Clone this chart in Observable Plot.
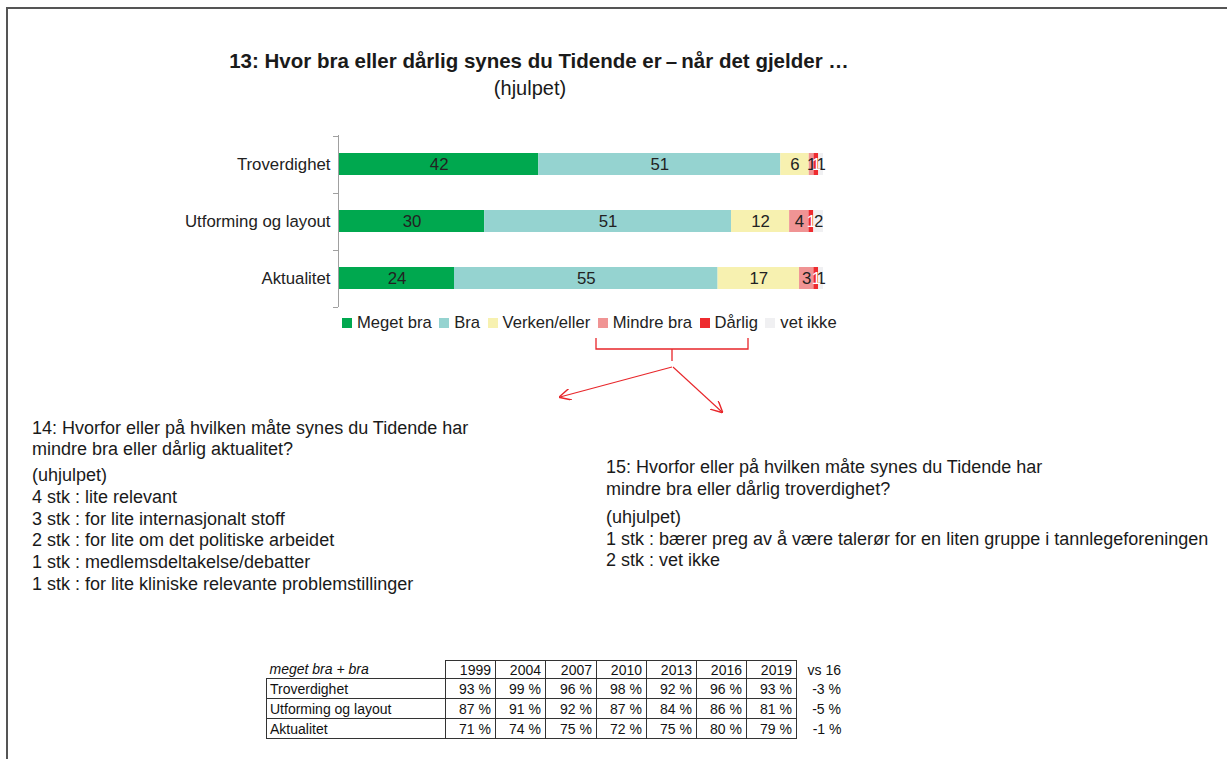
<!DOCTYPE html>
<html>
<head>
<meta charset="utf-8">
<script src="https://cdn.jsdelivr.net/npm/d3@7"></script>
<script src="https://cdn.jsdelivr.net/npm/@observablehq/plot@0.6"></script>
<style>
  body { margin: 0; background: #fff; }
  #page { position: relative; width: 1227px; height: 759px; overflow: hidden; font-family: "Liberation Sans", Arial, sans-serif; color: #222; }
  .abs { position: absolute; white-space: nowrap; }
  .line { position: absolute; white-space: nowrap; font-size: 18px; line-height: 22px; color: #1a1a1a; }
  #legend { position: absolute; left: 342px; top: 313px; display: flex; align-items: center; font-size: 16.6px; color: #222; }
  #legend .item { display: flex; align-items: center; margin-right: 7.5px; }
  #legend .sw { width: 10px; height: 10px; margin-right: 5px; }
  table { position: absolute; left: 266px; top: 660px; border-collapse: collapse; font-size: 14px; color: #111; table-layout: fixed; }
  td { height: 19px; padding: 0 4px; border: 1px solid #333; text-align: right; white-space: nowrap; }
  tr.head td { height: 17px; }
  td.lab { text-align: left; padding-left: 3px; }
  td.nob { border: none; }
  tr.head td.lab { border-top: none; border-left: none; font-style: italic; }
</style>
</head>
<body>
<div id="page">
  <div class="abs" style="left:6px;top:7px;width:1221px;height:2px;background:#555;"></div>
  <div class="abs" style="left:6px;top:7px;width:2px;height:752px;background:#555;"></div>
  <div class="abs" id="title" style="left:0;width:1078px;text-align:center;top:49px;font-size:20.5px;font-weight:bold;color:#1a1a1a;"></div>
  <div class="abs" id="subtitle" style="left:0;width:1060px;text-align:center;top:77px;font-size:20px;color:#1a1a1a;"></div>
  <div id="chart" class="abs" style="left:0;top:125px;"></div>
  <div id="legend"></div>
  <div id="q14"></div>
  <div id="q15"></div>
  <table id="tbl"></table>
  <svg class="abs" style="left:0;top:0;pointer-events:none;" width="1227" height="759">
    <defs>
      <marker id="arr" viewBox="0 0 10 10" refX="9" refY="5" markerWidth="12" markerHeight="12" markerUnits="userSpaceOnUse" orient="auto">
        <path d="M0,0 L10,5 L0,10" fill="none" stroke="#e8262a" stroke-width="1.2"/>
      </marker>
    </defs>
    <path d="M596,338 V349 H748 V338 M672,349 V361" fill="none" stroke="#e8262a" stroke-width="1.3"/>
    <line x1="672" y1="367" x2="560" y2="397" stroke="#e8262a" stroke-width="1.1" marker-end="url(#arr)"/>
    <line x1="673" y1="367" x2="722" y2="412" stroke="#e8262a" stroke-width="1.1" marker-end="url(#arr)"/>
  </svg>
</div>
<script>
// ---- data ----
const titleText = "13: Hvor bra eller dårlig synes du Tidende er\u2009–\u2009når det gjelder …";
const subtitleText = "(hjulpet)";
const categories = ["Troverdighet", "Utforming og layout", "Aktualitet"];
const responses = ["Meget bra", "Bra", "Verken/eller", "Mindre bra", "Dårlig", "vet ikke"];
const colors = ["#00a84f", "#95d3d0", "#f7f1b0", "#f09494", "#ee2b2f", "#f0f0f2"];
const troverdighet = [42, 51, 6, 1, 1, 1];
const utforming = [30, 51, 12, 4, 1, 2];
const aktualitet = [24, 55, 17, 3, 1, 1];

const q14Lines = [
  "14: Hvorfor eller på hvilken måte synes du Tidende har",
  "mindre bra eller dårlig aktualitet?",
  "(uhjulpet)",
  "4 stk : lite relevant",
  "3 stk : for lite internasjonalt stoff",
  "2 stk : for lite om det politiske arbeidet",
  "1 stk : medlemsdeltakelse/debatter",
  "1 stk : for lite kliniske relevante problemstillinger"
];
const q15Lines = [
  "15: Hvorfor eller på hvilken måte synes du Tidende har",
  "mindre bra eller dårlig troverdighet?",
  "(uhjulpet)",
  "1 stk : bærer preg av å være talerør for en liten gruppe i tannlegeforeningen",
  "2 stk : vet ikke"
];

const tableHeader = "meget bra + bra";
const years = ["1999", "2004", "2007", "2010", "2013", "2016", "2019"];
const vsLabel = "vs 16";
const tblTroverdighet = [93, 99, 96, 98, 92, 96, 93];
const tblUtforming = [87, 91, 92, 87, 84, 86, 81];
const tblAktualitet = [71, 74, 75, 72, 75, 80, 79];
const vsTroverdighet = -3, vsUtforming = -5, vsAktualitet = -1;

// ---- build ----
document.getElementById("title").textContent = titleText;
document.getElementById("subtitle").textContent = subtitleText;

const series = [troverdighet, utforming, aktualitet];
const rows = [];
categories.forEach((c, i) => responses.forEach((r, j) => rows.push({category: c, response: r, value: series[i][j]})));

const boundaryTicks = (index, scales, values, dims) => {
  const y = scales.y;
  const bw = y.bandwidth ? y.bandwidth() : 0;
  const step = y.step ? y.step() : (dims.height - dims.marginTop - dims.marginBottom) / categories.length;
  const x0 = dims.marginLeft - 1;
  const g = d3.create("svg:g").attr("stroke", "#a0a0a0").attr("stroke-width", 1);
  const pos = categories.map(c => y(c) + bw / 2 - step / 2);
  pos.push(y(categories[categories.length - 1]) + bw / 2 + step / 2);
  pos.forEach(p => g.append("line").attr("x1", x0 - 5).attr("x2", x0).attr("y1", Math.round(p) + 0.5).attr("y2", Math.round(p) + 0.5));
  return g.node();
};

const stackOpts = {offset: "normalize", x: "value", y: "category", z: "response", order: responses};
const chart = Plot.plot({
  width: 1227,
  height: 190,
  marginLeft: 339,
  marginRight: 404,
  marginTop: 10,
  marginBottom: 8,
  style: {fontFamily: "'Liberation Sans', Arial, sans-serif", fontSize: "16.8px", color: "#222", background: "transparent", overflow: "visible"},
  x: {domain: [0, 1], axis: null},
  y: {domain: categories, paddingInner: 0.62, paddingOuter: 0.31, label: null},
  color: {domain: responses, range: colors},
  marks: [
    Plot.barX(rows, Plot.stackX({...stackOpts, fill: "response"})),
    Plot.textX(rows, Plot.stackX({...stackOpts, text: d => d.response === "Dårlig" ? "" : String(d.value), fill: "#222", fontSize: 16.8})),
    Plot.textX(rows, Plot.stackX({...stackOpts, text: d => d.response === "Dårlig" ? String(d.value) : "", fill: "white", fontSize: 16.8})),
    Plot.ruleX([0], {stroke: "#a0a0a0", dx: -1}),
    boundaryTicks,
    Plot.axisY({tickSize: 0, tickPadding: 9, fontSize: 16.8, fill: "#222"})
  ]
});
document.getElementById("chart").append(chart);

// legend
const legend = document.getElementById("legend");
responses.forEach((r, j) => {
  const it = document.createElement("div"); it.className = "item";
  const sw = document.createElement("div"); sw.className = "sw"; sw.style.background = colors[j];
  const t = document.createElement("span"); t.textContent = r;
  it.append(sw, t); legend.append(it);
});

// text blocks
const q14Centers = [429, 450, 476, 498, 520, 541, 563, 585];
const q15Centers = [468, 490, 518, 540, 561];
function addLines(id, lines, centers, left) {
  const el = document.getElementById(id);
  lines.forEach((s, i) => {
    const d = document.createElement("div"); d.className = "line";
    d.style.left = left + "px"; d.style.top = (centers[i] - 12) + "px";
    d.textContent = s; el.append(d);
  });
}
addLines("q14", q14Lines, q14Centers, 32);
addLines("q15", q15Lines, q15Centers, 606);

// table
const tbl = document.getElementById("tbl");
const colW = [179, 50, 50, 51, 50, 50, 50, 50, 49];
const cg = document.createElement("colgroup");
colW.forEach(w => { const c = document.createElement("col"); c.style.width = w + "px"; cg.append(c); });
tbl.append(cg);
const fmt = v => v + "\u00a0%";
const hr = document.createElement("tr"); hr.className = "head";
let td = document.createElement("td"); td.className = "lab"; td.textContent = tableHeader; hr.append(td);
years.forEach(y => { const c = document.createElement("td"); c.textContent = y; hr.append(c); });
td = document.createElement("td"); td.className = "nob"; td.textContent = vsLabel; hr.append(td);
tbl.append(hr);
[[categories[0], tblTroverdighet, vsTroverdighet], [categories[1], tblUtforming, vsUtforming], [categories[2], tblAktualitet, vsAktualitet]].forEach(([name, vals, vs]) => {
  const tr = document.createElement("tr");
  let c = document.createElement("td"); c.className = "lab"; c.textContent = name; tr.append(c);
  vals.forEach(v => { const x = document.createElement("td"); x.textContent = fmt(v); tr.append(x); });
  c = document.createElement("td"); c.className = "nob"; c.textContent = fmt(vs); tr.append(c);
  tbl.append(tr);
});
</script>
</body>
</html>
